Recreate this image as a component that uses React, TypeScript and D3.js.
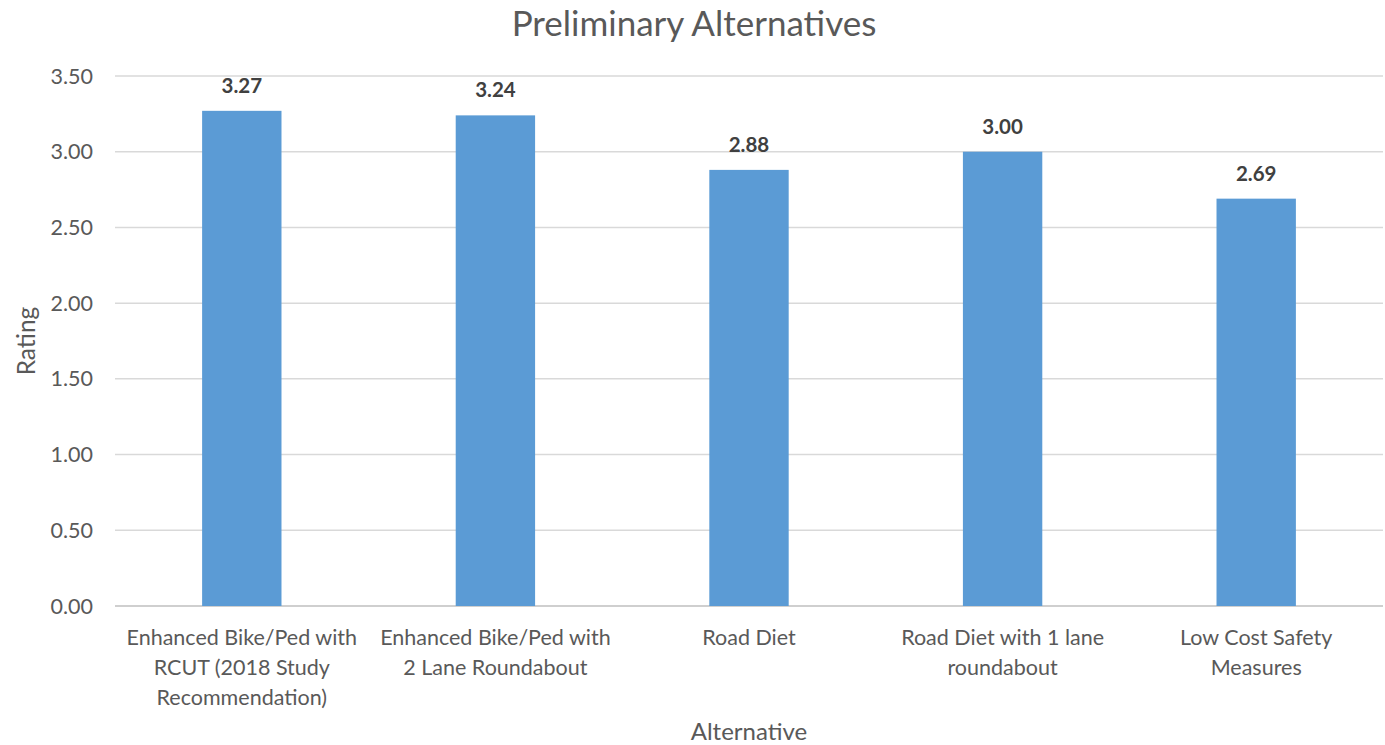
import React from 'react'
import * as d3 from 'd3'

const categories = [
  ['Enhanced Bike/Ped with', 'RCUT (2018 Study', 'Recommendation)'],
  ['Enhanced Bike/Ped with', '2 Lane Roundabout'],
  ['Road Diet'],
  ['Road Diet with 1 lane', 'roundabout'],
  ['Low Cost Safety', 'Measures'],
]
const ratings = [3.27, 3.24, 2.88, 3.0, 2.69]
const yTicks = [0, 0.5, 1, 1.5, 2, 2.5, 3, 3.5]

const W = 1385
const H = 745
const margin = { left: 115, right: 2, top: 76, bottom: 139 }
const font = 'Lato, "Open Sans", sans-serif'

export default function App() {
  const x = d3
    .scaleBand<number>()
    .domain(categories.map((_, i) => i))
    .range([margin.left, W - margin.right])
    .padding(0)
  const y = d3
    .scaleLinear()
    .domain([0, 3.5])
    .range([H - margin.bottom, margin.top])
  const barW = x.bandwidth() * 0.313

  return (
    <svg
      width={W}
      height={H}
      style={{ position: 'absolute', left: 0, top: 0, background: '#fff' }}
      fontFamily={font}
    >
      <text x={694} y={36} textAnchor="middle" fontSize={35} fill="#595959">
        Preliminary Alternatives
      </text>

      {/* grid */}
      {yTicks.map(t => (
        <g key={t}>
          <line
            x1={margin.left}
            x2={W - margin.right}
            y1={y(t)}
            y2={y(t)}
            stroke={t === 0 ? '#BFBFBF' : '#D9D9D9'}
            strokeWidth={1.5}
          />
          <text
            x={93}
            y={y(t)}
            dy="0.35em"
            textAnchor="end"
            fontSize={21.5}
            fill="#595959"
          >
            {d3.format('.2f')(t)}
          </text>
        </g>
      ))}

      {/* bars */}
      {ratings.map((v, i) => {
        const cx = x(i)! + x.bandwidth() / 2
        return (
          <g key={i}>
            <rect
              x={cx - barW / 2}
              y={y(v)}
              width={barW}
              height={y(0) - y(v)}
              fill="#5B9BD5"
            />
            <text
              x={cx}
              y={y(v) - 18}
              textAnchor="middle"
              fontSize={20.5}
              fontWeight="bold"
              fill="#404040"
            >
              {d3.format('.2f')(v)}
            </text>
            {categories[i].map((line, j) => (
              <text
                key={j}
                x={cx}
                y={645 + j * 30}
                textAnchor="middle"
                fontSize={21.5}
                fill="#595959"
              >
                {line}
              </text>
            ))}
          </g>
        )
      })}

      <text x={749} y={740} textAnchor="middle" fontSize={24} fill="#595959">
        Alternative
      </text>
      <text
        transform={`translate(35, ${(y(0) + y(3.5)) / 2}) rotate(-90)`}
        textAnchor="middle"
        fontSize={24.5}
        fill="#595959"
      >
        Rating
      </text>
    </svg>
  )
}
